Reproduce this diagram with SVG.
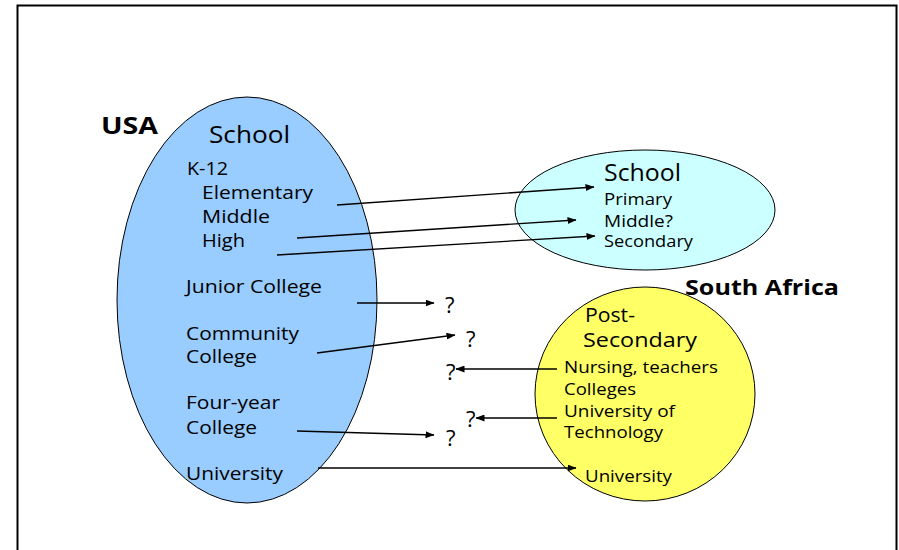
<svg xmlns="http://www.w3.org/2000/svg" width="899" height="550" viewBox="0 0 899 550">
<defs>
<marker id="ah" markerWidth="9" markerHeight="7" refX="8.5" refY="3.5" orient="auto" markerUnits="userSpaceOnUse">
<path d="M0,0 L9,3.5 L0,7 Z" fill="#000"/>
</marker>
<style>
text{font-family:"Open Sans","DejaVu Sans",sans-serif;fill:#000}
.b{font-weight:bold}
.lg{font-size:24.5px}
.md{font-size:18.5px}
.sm{font-size:15.5px}
.q{font-size:22px}
.conn line{stroke:#000;stroke-width:1.3;marker-end:url(#ah)}
.shape{stroke:#000;stroke-width:1}
</style>
</defs>
<rect width="899" height="550" fill="#fff"/>
<rect x="17.5" y="5.5" width="879" height="600" fill="none" stroke="#000" stroke-width="2"/>

<g id="usa-label"><text class="b" x="101" y="134" font-size="23" textLength="57" lengthAdjust="spacingAndGlyphs">USA</text></g>

<g id="usa">
<ellipse class="shape" cx="247" cy="300" rx="130" ry="203" fill="#99CCFF"/>
<text class="lg" x="209" y="143" textLength="81" lengthAdjust="spacingAndGlyphs">School</text>
<text class="md" x="187" y="175" textLength="41" lengthAdjust="spacingAndGlyphs">K-12</text>
<text class="md" x="202" y="199" textLength="111" lengthAdjust="spacingAndGlyphs">Elementary</text>
<text class="md" x="202" y="223" textLength="68" lengthAdjust="spacingAndGlyphs">Middle</text>
<text class="md" x="202" y="247" textLength="43" lengthAdjust="spacingAndGlyphs">High</text>
<text class="md" x="186" y="293" textLength="136" lengthAdjust="spacingAndGlyphs">Junior College</text>
<text class="md" x="186" y="340" textLength="113" lengthAdjust="spacingAndGlyphs">Community</text>
<text class="md" x="186" y="363" textLength="71" lengthAdjust="spacingAndGlyphs">College</text>
<text class="md" x="186" y="409" textLength="94" lengthAdjust="spacingAndGlyphs">Four-year</text>
<text class="md" x="186" y="434" textLength="71" lengthAdjust="spacingAndGlyphs">College</text>
<text class="md" x="186" y="480" textLength="97" lengthAdjust="spacingAndGlyphs">University</text>
</g>

<g id="sa-school">
<ellipse class="shape" cx="645" cy="210" rx="130" ry="60" fill="#CCFFFF"/>
<text x="604" y="181" font-size="23" textLength="77" lengthAdjust="spacingAndGlyphs">School</text>
<text class="sm" x="604" y="205" textLength="68" lengthAdjust="spacingAndGlyphs">Primary</text>
<text class="sm" x="604" y="227" textLength="69" lengthAdjust="spacingAndGlyphs">Middle?</text>
<text class="sm" x="604" y="247" textLength="89" lengthAdjust="spacingAndGlyphs">Secondary</text>
</g>

<g id="sa-post">
<ellipse class="shape" cx="645" cy="394" rx="110" ry="107" fill="#FFFF66"/>
<text x="585" y="322" font-size="19.5" textLength="50" lengthAdjust="spacingAndGlyphs">Post-</text>
<text x="583" y="347" font-size="19.5" textLength="114" lengthAdjust="spacingAndGlyphs">Secondary</text>
<text class="sm" x="564" y="373" textLength="154" lengthAdjust="spacingAndGlyphs">Nursing, teachers</text>
<text class="sm" x="564" y="395" textLength="72" lengthAdjust="spacingAndGlyphs">Colleges</text>
<text class="sm" x="564" y="417" textLength="111" lengthAdjust="spacingAndGlyphs">University of</text>
<text class="sm" x="564" y="438" textLength="99" lengthAdjust="spacingAndGlyphs">Technology</text>
<text class="sm" x="585" y="482" textLength="87" lengthAdjust="spacingAndGlyphs">University</text>
</g>

<g id="sa-label"><text class="b" x="685" y="295" font-size="21.5" textLength="154" lengthAdjust="spacingAndGlyphs">South Africa</text></g>

<g id="unknowns">
<text class="q" x="445" y="313">?</text>
<text class="q" x="466" y="347">?</text>
<text class="q" x="446" y="380">?</text>
<text class="q" x="466" y="427">?</text>
<text class="q" x="446" y="446">?</text>
</g>

<g class="conn" id="connectors">
<line x1="337" y1="205" x2="594" y2="187"/>
<line x1="297" y1="238" x2="576" y2="220"/>
<line x1="277" y1="255" x2="595" y2="236"/>
<line x1="357" y1="303" x2="434" y2="303"/>
<line x1="317" y1="353" x2="455" y2="335"/>
<line x1="557" y1="369" x2="456" y2="369"/>
<line x1="557" y1="418" x2="476" y2="418"/>
<line x1="297" y1="431" x2="434" y2="435"/>
<line x1="318" y1="468" x2="576" y2="468"/>
</g>
</svg>
